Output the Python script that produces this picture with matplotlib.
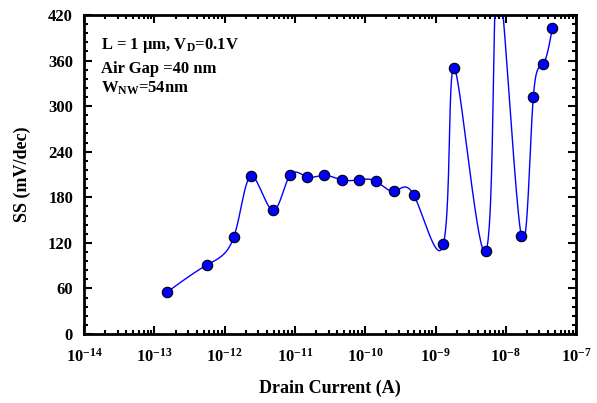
import matplotlib
matplotlib.use('Agg')
import matplotlib.pyplot as plt
import numpy as np
from matplotlib.ticker import FixedLocator, MultipleLocator, LogLocator, NullFormatter

plt.rcParams['font.family'] = 'Liberation Serif'
plt.rcParams['font.weight'] = 'bold'
plt.rcParams['mathtext.fontset'] = 'custom'
plt.rcParams['mathtext.rm'] = 'Liberation Serif:bold'
plt.rcParams['mathtext.it'] = 'Liberation Serif:bold'
plt.rcParams['mathtext.bf'] = 'Liberation Serif:bold'

# drain current (A) and subthreshold swing (mV/dec)
current = [1.5e-13, 5.6e-13, 1.35e-12, 2.4e-12, 4.8e-12, 8.5e-12, 1.48e-11,
           2.6e-11, 4.6e-11, 8.2e-11, 1.42e-10, 2.6e-10, 4.9e-10, 1.29e-9,
           1.86e-9, 5.2e-9, 7.6e-9, 1.66e-8, 2.46e-8, 3.4e-8, 4.6e-8]
ss = [55, 91, 128, 208, 163, 209, 207, 209, 203, 203, 201, 188, 183, 118,
      350, 109, 475, 129, 312, 355, 403]


def natural_coeffs(t, y):
    m = len(t)
    h = np.diff(t)
    A = np.zeros((m, m))
    b = np.zeros(m)
    A[0, 0] = 1
    A[-1, -1] = 1
    for i in range(1, m - 1):
        A[i, i - 1] = h[i - 1]
        A[i, i] = 2 * (h[i - 1] + h[i])
        A[i, i + 1] = h[i]
        b[i] = 6 * ((y[i + 1] - y[i]) / h[i] - (y[i] - y[i - 1]) / h[i - 1])
    return np.linalg.solve(A, b)


def eval_spline(t, y, M, n=40):
    h = np.diff(t)
    out = []
    for i in range(len(t) - 1):
        s = np.linspace(t[i], t[i + 1], n)
        a = t[i + 1] - s
        c = s - t[i]
        out.append((M[i] * a ** 3 + M[i + 1] * c ** 3) / (6 * h[i])
                   + (y[i] / h[i] - M[i] * h[i] / 6) * a
                   + (y[i + 1] / h[i] - M[i + 1] * h[i] / 6) * c)
    return np.concatenate(out)


# parametric spline in screen-like units
px = np.log10(current) * 70.3
py = np.asarray(ss, float) * 0.76
t = np.concatenate([[0], np.cumsum(np.hypot(np.diff(px), np.diff(py)) ** 0.2)])
sx = eval_spline(t, px, natural_coeffs(t, px))
sy = eval_spline(t, py, natural_coeffs(t, py))

fig = plt.figure(figsize=(5.97, 4.03), dpi=100)
ax = fig.add_axes([0.141, 0.171, 0.824, 0.792])

ax.plot(10 ** (sx / 70.3), sy / 0.76, color='blue', lw=1.0, zorder=2)
ax.plot(current, ss, 'o', color='blue', mec='black', mew=0.8, ms=7.5, zorder=3)

ax.set_xscale('log')
ax.set_xlim(1e-14, 1e-7)
ax.set_ylim(0, 420)
ax.xaxis.set_major_locator(FixedLocator([10.0 ** k for k in range(-14, -6)]))
ax.xaxis.set_minor_locator(LogLocator(base=10, subs=np.arange(2, 10), numticks=20))
ax.xaxis.set_minor_formatter(NullFormatter())
ax.set_xticklabels([r'$10^{%d}$' % k for k in range(-14, -6)])
ax.yaxis.set_major_locator(MultipleLocator(60))
ax.yaxis.set_minor_locator(MultipleLocator(12))

ax.tick_params(which='both', direction='in', top=True, right=True, labelsize=12, width=1.5)
ax.tick_params(which='major', length=6)
ax.tick_params(axis='x', which='major', pad=10)
ax.tick_params(axis='y', which='major', pad=8)
ax.tick_params(which='minor', length=3)
for sp in ax.spines.values():
    sp.set_linewidth(2)

ax.set_xlabel('Drain Current (A)', fontsize=13, fontweight='bold', labelpad=10)
ax.set_ylabel('SS (mV/dec)', fontsize=13, fontweight='bold', labelpad=12)

ax.text(0.035, 0.893, r'L = 1 $\mu$m, V$_{\rm D}$=0.1V', transform=ax.transAxes, fontsize=12, fontweight='bold')
ax.text(0.035, 0.818, 'Air Gap =40 nm', transform=ax.transAxes, fontsize=12, fontweight='bold')
ax.text(0.035, 0.758, r'W$_{\rm NW}$=54nm', transform=ax.transAxes, fontsize=12, fontweight='bold')

fig.savefig('out.png', dpi=100)
